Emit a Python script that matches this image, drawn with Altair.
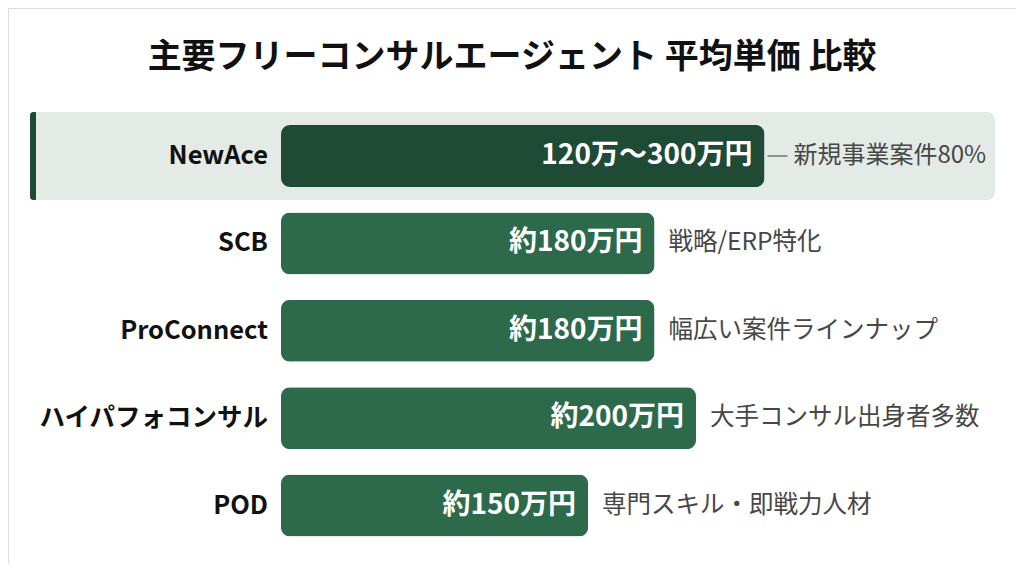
import altair as alt
import pandas as pd

agents = ["NewAce", "SCB", "ProConnect", "ハイパフォコンサル", "POD"]
bar_length = [233, 180, 180, 200, 148]  # 万円 (NewAce bar drawn shorter than its 300 upper bound)
price_labels = ["120万〜300万円", "約180万円", "約180万円", "約200万円", "約150万円"]
notes = ["新規事業案件80%", "戦略/ERP特化", "幅広い案件ラインナップ", "大手コンサル出身者多数", "専門スキル・即戦力人材"]
highlight = [True, False, False, False, False]

df = pd.DataFrame({
    "agent": agents,
    "value": bar_length,
    "price": price_labels,
    "note": notes,
    "hl": highlight,
})
df["color"] = ["#1f4a35" if h else "#2d6a4c" for h in highlight]

FONT = "Noto Sans CJK JP"
W, H = 1008, 556

x_scale = alt.Scale(domain=[0, 300], range=[273, 273 + 300 * 2.075], nice=False, zero=True)
y_scale = alt.Scale(domain=agents, range=[104.3, 541.3], paddingInner=0.29, paddingOuter=0.145)

X = alt.X("value:Q", scale=x_scale, axis=None)
Y = alt.Y("agent:N", scale=y_scale, axis=None, sort=agents)

base = alt.Chart(df)

band = base.transform_filter("datum.hl").mark_bar(
    size=88, color="#e4ebe7", cornerRadius=8
).encode(x=alt.value(22), x2=alt.value(987), y=Y)

accent = base.transform_filter("datum.hl").mark_bar(
    size=88, color="#1f4a35", cornerRadiusTopLeft=8, cornerRadiusBottomLeft=8
).encode(x=alt.value(22), x2=alt.value(28), y=Y)

bars = base.mark_bar(size=62, cornerRadius=9).encode(
    x=X, y=Y, color=alt.Color("color:N", scale=None)
)

names = base.mark_text(
    align="right", baseline="middle", font=FONT, fontSize=25.5, fontWeight="bold", color="#111111"
).encode(x=alt.value(260), y=Y, text="agent:N")

prices = base.mark_text(
    align="right", baseline="middle", dx=-12, font=FONT, fontSize=28, fontWeight="bold", color="#ffffff"
).encode(x=X, y=Y, text="price:N")

connector = base.transform_filter("datum.hl").mark_rule(
    color="#555555", strokeWidth=1.2, xOffset=3, x2Offset=23
).encode(x=X, x2="value:Q", y=Y)

notes_other = base.transform_filter("!datum.hl").mark_text(
    align="left", baseline="middle", dx=14, font=FONT, fontSize=24.5, color="#474747"
).encode(x=X, y=Y, text="note:N")

notes_hl = base.transform_filter("datum.hl").mark_text(
    align="left", baseline="middle", dx=29, font=FONT, fontSize=24, color="#474747"
).encode(x=X, y=Y, text="note:N")

chart = alt.layer(band, accent, bars, names, prices, connector, notes_other, notes_hl).properties(
    width=W, height=H,
    title=alt.TitleParams(
        "主要フリーコンサルエージェント 平均単価 比較",
        font=FONT, fontSize=34, fontWeight="bold", color="#111111",
        anchor="middle", frame="group", offset=-67,
    ),
    autosize=alt.AutoSizeParams(type="none"),
    padding=0,
).configure_view(stroke=None).configure(background="#ffffff")

chart.save("out.html", embed_options={"renderer": "svg", "actions": False})
